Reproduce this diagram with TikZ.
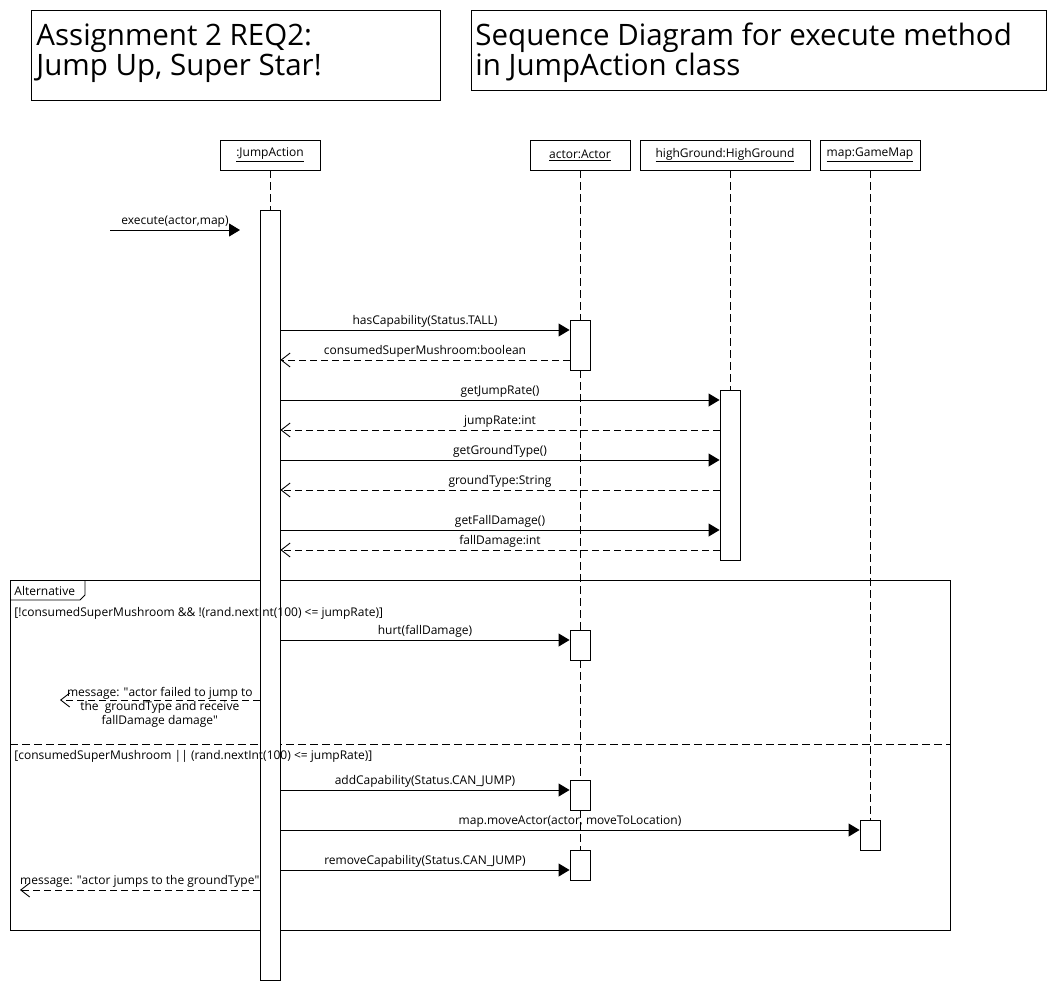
\documentclass[tikz,border=0pt]{standalone}
\usepackage{fontspec}
\setmainfont{Open Sans}
\usetikzlibrary{arrows.meta}

\begin{document}
\begin{tikzpicture}[x=1pt,y=-1pt,line width=0.9pt]
    \tikzstyle{titlebox}=[draw, rectangle, inner sep=0pt]
    \tikzstyle{titletext}=[align=left, inner sep=0pt, anchor=base west, font=\fontsize{29.5}{31}\selectfont]
    \tikzstyle{head}=[draw, rectangle, minimum height=30pt, inner sep=0pt, font=\fontsize{12}{14}\selectfont]
    \tikzstyle{act}=[draw, fill=white, rectangle, minimum width=20pt, inner sep=0pt]
    \tikzstyle{life}=[dash pattern=on 8pt off 4pt]
    \tikzstyle{call}=[-{Triangle[length=11pt,width=13pt]}]
    \tikzstyle{reply}=[dash pattern=on 7pt off 4pt, -{Straight Barb[length=9pt,width=14pt,line width=0.9pt]}]
    \tikzstyle{msgtext}=[font=\fontsize{12}{14}\selectfont, inner sep=2pt]

    \useasboundingbox (0,0) rectangle (1060,990);

    % titles (base = baseline of the last line)
    \node[titlebox, minimum width=409pt, minimum height=90pt] (t1) at (235.5,55) {};
    \node[titletext] (t1text) at (36,76) {Assignment 2 REQ2:\\Jump Up, Super Star!};
    \node[titlebox, minimum width=575pt, minimum height=80pt] (t2) at (758.5,50) {};
    \node[titletext] (t2text) at (475,76) {Sequence Diagram for execute method\\in JumpAction class};

    % lifeline heads
    \node[head, minimum width=100pt] (ja) at (270,155)  {\underline{:JumpAction}};
    \node[head, minimum width=100pt] (actor) at (580,155)  {\underline{actor:Actor}};
    \node[head, minimum width=170pt] (hg) at (725,155)  {\underline{highGround:HighGround}};
    \node[head, minimum width=100pt] (gm) at (870,155)  {\underline{map:GameMap}};

    % alternative frame
    \draw (10,580) rectangle (950,930);
    \draw (10,600) -- (80,600) -- (85,595) -- (85,580);
    \node[msgtext, anchor=west] (altTag) at (12,591) {Alternative};
    \draw[life] (10,744) -- (950,744);

    % activations
    \node[act, minimum height=770pt] (jaA) at (270,595) {};
    \node[act, minimum height=50pt]  (a1)  at (580,345) {};
    \node[act, minimum height=170pt] (hA)  at (730,475) {};
    \node[act, minimum height=30pt]  (a2)  at (580,645) {};
    \node[act, minimum height=30pt]  (a3)  at (580,795) {};
    \node[act, minimum height=30pt]  (mA)  at (870,835) {};
    \node[act, minimum height=30pt]  (a4)  at (580,865) {};

    % lifelines
    \draw[life] (ja) -- (jaA);
    \draw[life] (actor) -- (a1);
    \draw[life] (a1) -- (a2);
    \draw[life] (a2) -- (a3);
    \draw[life] (a3) -- (a4);
    \draw[life] (hg.south -| hA) -- (hA);
    \draw[life] (gm) -- (mA);

    % guards
    \node[msgtext, anchor=west] (g1) at (12,613) {[!consumedSuperMushroom \&\& !(rand.nextInt(100) <= jumpRate)]};
    \node[msgtext, anchor=west] (g2) at (12,756) {[consumedSuperMushroom || (rand.nextInt(100) <= jumpRate)]};

    % messages
    \coordinate (exStart) at (110,230);
    \coordinate (exEnd) at (240,230);
    \draw[call] (exStart) -- (exEnd) node[msgtext, midway, above] {execute(actor,map)};

    \draw[call] (jaA.east |- 0,330) -- (a1.west |- 0,330) node[msgtext, midway, above] {hasCapability(Status.TALL)};
    \draw[reply] (a1.west |- 0,360) -- (jaA.east |- 0,360) node[msgtext, midway, above] {consumedSuperMushroom:boolean};
    \draw[call] (jaA.east |- 0,400) -- (hA.west |- 0,400) node[msgtext, midway, above] {getJumpRate()};
    \draw[reply] (hA.west |- 0,430) -- (jaA.east |- 0,430) node[msgtext, midway, above] {jumpRate:int};
    \draw[call] (jaA.east |- 0,460) -- (hA.west |- 0,460) node[msgtext, midway, above] {getGroundType()};
    \draw[reply] (hA.west |- 0,490) -- (jaA.east |- 0,490) node[msgtext, midway, above] {groundType:String};
    \draw[call] (jaA.east |- 0,530) -- (hA.west |- 0,530) node[msgtext, midway, above] {getFallDamage()};
    \draw[reply] (hA.west |- 0,550) -- (jaA.east |- 0,550) node[msgtext, midway, above] {fallDamage:int};

    \draw[call] (jaA.east |- 0,640) -- (a2.west |- 0,640) node[msgtext, midway, above] {hurt(fallDamage)};
    \coordinate (failEnd) at (60,700);
    \draw[reply] (jaA.west |- 0,700) -- (failEnd) node[msgtext, midway, yshift=-7pt, align=center] {message: \textquotedbl actor failed to jump to\\the \ groundType and receive\\fallDamage damage\textquotedbl};

    \draw[call] (jaA.east |- 0,790) -- (a3.west |- 0,790) node[msgtext, midway, above] {addCapability(Status.CAN\_JUMP)};
    \draw[call] (jaA.east |- 0,830) -- (mA.west |- 0,830) node[msgtext, midway, above] {map.moveActor(actor, moveToLocation)};
    \draw[call] (jaA.east |- 0,870) -- (a4.west |- 0,870) node[msgtext, midway, above] {removeCapability(Status.CAN\_JUMP)};
    \coordinate (jumpEnd) at (20,890);
    \draw[reply] (jaA.west |- 0,890) -- (jumpEnd) node[msgtext, midway, above] {message: \textquotedbl actor jumps to the groundType\textquotedbl};
\end{tikzpicture}
\end{document}
